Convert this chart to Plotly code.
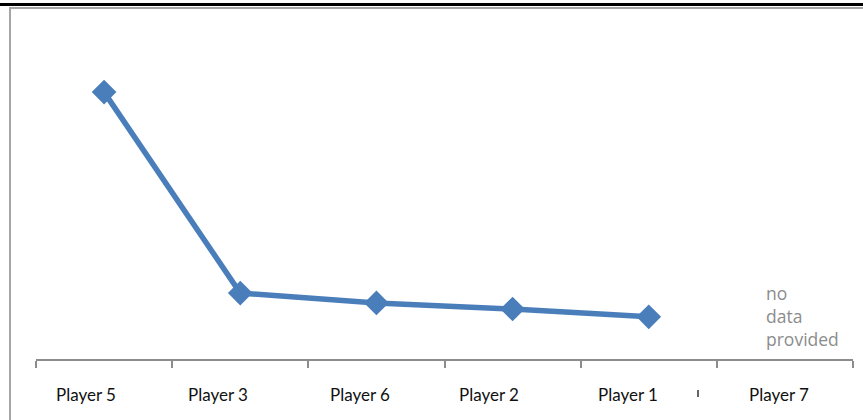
import plotly.graph_objects as go

# Category order and values per player (Player 7 has no data)
players = ["Player 5", "Player 3", "Player 6", "Player 2", "Player 1", "Player 7"]
scores = [7.85, 1.94, 1.65, 1.47, 1.24, None]
note_text = "no<br>data<br>provided"

# horizontal nudge (px) of each category label relative to its slot centre
label_nudge = [-18, -22, -16, -24, -21, -6]

W, H = 863, 420
L, R, T, B = 36, 10, 19, 61
plot_w = W - L - R
plot_h = H - T - B


def px_x(px):
    return (px - L) / plot_w


def px_y(py):
    return (H - B - py) / plot_h


fig = go.Figure()
fig.add_trace(go.Scatter(
    x=players,
    y=scores,
    mode="lines+markers",
    line=dict(color="#4A7EBB", width=5.5),
    marker=dict(symbol="diamond", size=19, color="#4A7EBB"),
    connectgaps=False,
    showlegend=False,
    hoverinfo="skip",
))

# category labels drawn as annotations so each can be nudged
label_annotations = [
    dict(text=name, xref="x", yref="paper", x=name, y=px_y(394),
         xshift=shift, xanchor="center", yanchor="middle", showarrow=False,
         font=dict(family="Lato", size=17, color="#111111"))
    for name, shift in zip(players, label_nudge)
]

note_annotation = dict(
    text=note_text, xref="paper", yref="paper",
    x=px_x(764), y=px_y(316), xanchor="left", yanchor="middle",
    align="left", showarrow=False,
    font=dict(family="Open Sans", size=17.5, color="#8C8C8C"),
)

fig.update_layout(
    width=W,
    height=H,
    margin=dict(l=L, r=R, t=T, b=B),
    paper_bgcolor="white",
    plot_bgcolor="white",
    font=dict(family="Lato", color="#000000"),
    xaxis=dict(
        type="category",
        categoryorder="array",
        categoryarray=players,
        range=[-0.5, len(players) - 0.5],
        showline=True,
        linecolor="#8C8C8C",
        linewidth=1.5,
        ticks="outside",
        tickson="boundaries",
        ticklen=7,
        tickcolor="#8C8C8C",
        tickwidth=1.5,
        showgrid=False,
        zeroline=False,
        showticklabels=False,
        fixedrange=True,
    ),
    yaxis=dict(
        range=[0, 10],
        visible=False,
        showgrid=False,
        zeroline=False,
        fixedrange=True,
    ),
    shapes=[
        # outer chart frame
        dict(type="rect", xref="paper", yref="paper",
             x0=px_x(10), x1=px_x(W + 20), y0=px_y(H + 20), y1=px_y(8),
             line=dict(color="#A6A6A6", width=2), fillcolor="rgba(0,0,0,0)",
             layer="below"),
        # heading rule along the top edge
        dict(type="line", xref="paper", yref="paper",
             x0=px_x(-5), x1=px_x(W + 5), y0=px_y(4.5), y1=px_y(4.5),
             line=dict(color="#000000", width=3)),
        # small stray stroke between the last two labels
        dict(type="line", xref="paper", yref="paper",
             x0=px_x(698), x1=px_x(698), y0=px_y(390), y1=px_y(397),
             line=dict(color="#333333", width=1.5)),
    ],
    annotations=label_annotations + [note_annotation],
)

fig.write_html("out.html")
